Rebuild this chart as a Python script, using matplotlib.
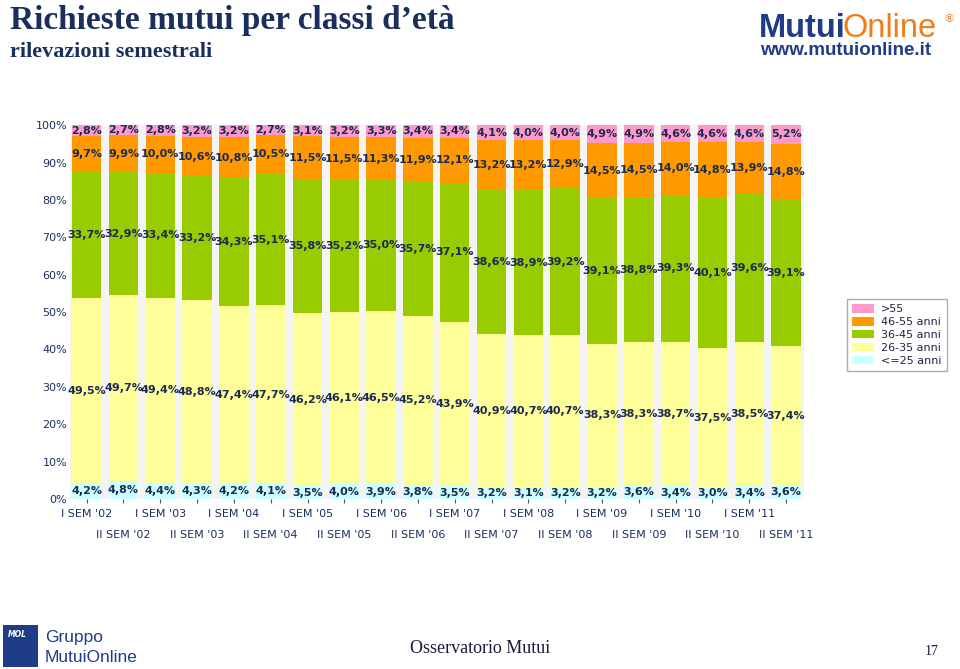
import numpy as np
import matplotlib.pyplot as plt
from matplotlib.patches import Rectangle

# Dati: quote per classe d'età (%), semestri 2002-2011
semestri = ["I SEM '02", "II SEM '02", "I SEM '03", "II SEM '03", "I SEM '04", "II SEM '04",
            "I SEM '05", "II SEM '05", "I SEM '06", "II SEM '06", "I SEM '07", "II SEM '07",
            "I SEM '08", "II SEM '08", "I SEM '09", "II SEM '09", "I SEM '10", "II SEM '10",
            "I SEM '11", "II SEM '11"]
fino_25 = [4.2, 4.8, 4.4, 4.3, 4.2, 4.1, 3.5, 4.0, 3.9, 3.8, 3.5, 3.2, 3.1, 3.2, 3.2, 3.6, 3.4, 3.0, 3.4, 3.6]
da_26_35 = [49.5, 49.7, 49.4, 48.8, 47.4, 47.7, 46.2, 46.1, 46.5, 45.2, 43.9, 40.9, 40.7, 40.7, 38.3, 38.3,
            38.7, 37.5, 38.5, 37.4]
da_36_45 = [33.7, 32.9, 33.4, 33.2, 34.3, 35.1, 35.8, 35.2, 35.0, 35.7, 37.1, 38.6, 38.9, 39.2, 39.1, 38.8,
            39.3, 40.1, 39.6, 39.1]
da_46_55 = [9.7, 9.9, 10.0, 10.6, 10.8, 10.5, 11.5, 11.5, 11.3, 11.9, 12.1, 13.2, 13.2, 12.9, 14.5, 14.5,
            14.0, 14.8, 13.9, 14.8]
oltre_55 = [2.8, 2.7, 2.8, 3.2, 3.2, 2.7, 3.1, 3.2, 3.3, 3.4, 3.4, 4.1, 4.0, 4.0, 4.9, 4.9, 4.6, 4.6, 4.6, 5.2]

serie = [fino_25, da_26_35, da_36_45, da_46_55, oltre_55]
etichette = ['<=25 anni', '26-35 anni', '36-45 anni', '46-55 anni', '>55']
colori = ['#ccffff', '#ffff99', '#99cc00', '#ff9900', '#ff99cc']

navy = '#1b2f5e'
txt = '#1a2a50'

fig = plt.figure(figsize=(9.6, 6.69), dpi=100)
ax = fig.add_axes([0.073, 0.254, 0.765, 0.559])
ax.set_facecolor('#f4f4f4')

x = np.arange(len(semestri))
base = np.zeros(len(semestri))
for vals, lab, col in zip(serie, etichette, colori):
    v = np.array(vals)
    ax.bar(x, v, 0.8, bottom=base, color=col, label=lab, linewidth=0)
    for xi, b, vi in zip(x, base, v):
        ax.text(xi, b + vi / 2, f"{vi:.1f}%".replace('.', ','), ha='center', va='center',
                fontsize=8, fontweight='bold', color=txt, clip_on=False)
    base += v

ax.set_xlim(-0.45, 19.5)
ax.set_ylim(0, 100)
ax.set_yticks(np.arange(0, 101, 10))
ax.set_yticklabels([f"{t}%" for t in range(0, 101, 10)])
ax.tick_params(axis='y', length=0, labelsize=8, labelcolor=navy, pad=2)
ax.set_xticks(x)
ax.set_xticklabels([])
ax.tick_params(axis='x', length=3, width=0.8, color='#555555')
# etichette semestri su due righe sfalsate
for xi, s in zip(x, semestri):
    off = -11 if xi % 2 == 0 else -26
    ax.annotate(s, xy=(xi, 0), xycoords=('data', 'axes fraction'), xytext=(0, off),
                textcoords='offset points', ha='center', va='center', fontsize=8, color=navy)
for sp in ax.spines.values():
    sp.set_visible(False)

# legenda (ordine inverso)
h, l = ax.get_legend_handles_labels()
leg = fig.legend(h[::-1], l[::-1], loc='upper left', bbox_to_anchor=(0.876, 0.562),
                 fontsize=8, frameon=True, fancybox=False, edgecolor='#999999',
                 handlelength=2.0, handleheight=0.8, labelspacing=0.25, borderpad=0.5,
                 handletextpad=0.6)
for t in leg.get_texts():
    t.set_color('#222244')

# titoli
fig.text(0.010, 0.993, "Richieste mutui per classi d’età", ha='left', va='top',
         fontsize=24, fontweight='bold', family='Liberation Serif', color=navy)
fig.text(0.010, 0.937, "rilevazioni semestrali", ha='left', va='top',
         fontsize=16, fontweight='bold', family='Liberation Serif', color=navy)

# logo MutuiOnline
t1 = fig.text(0.791, 0.945, "Mutui", ha='left', va='baseline', fontsize=23.5,
              fontweight='bold', family='Liberation Sans', color='#1f3c88')
fig.canvas.draw()
bb = t1.get_window_extent()
fig.text(bb.x1 / fig.bbox.width - 0.004, 0.945, "Online", ha='left', va='baseline',
         fontsize=23.5, family='Liberation Sans', color='#f07d1a')
fig.text(0.989, 0.972, "®", ha='center', va='center', fontsize=8, color='#f07d1a')
fig.text(0.792, 0.918, "www.mutuionline.it", ha='left', va='baseline', fontsize=13.5,
         fontweight='bold', family='Liberation Sans', color='#1f3c88')

# piè di pagina
fig.patches.append(Rectangle((0.003, 0.003), 0.037, 0.063, transform=fig.transFigure,
                             facecolor='#1f3c88', edgecolor='none'))
fig.text(0.008, 0.058, "MOL", ha='left', va='top', fontsize=5.5, fontweight='bold',
         style='italic', color='white')
fig.text(0.047, 0.040, "Gruppo", ha='left', va='baseline', fontsize=12.5, color='#1f3c88',
         family='Liberation Sans')
fig.text(0.047, 0.010, "MutuiOnline", ha='left', va='baseline', fontsize=12.5, color='#1f3c88',
         family='Liberation Sans')
fig.text(0.5, 0.031, "Osservatorio Mutui", ha='center', va='center', fontsize=13,
         family='Liberation Serif', color='#1a1a3a')
fig.text(0.971, 0.026, "17", ha='center', va='center', fontsize=10,
         family='Liberation Serif', color='#1a1a3a')

fig.savefig('out.png', dpi=100)
